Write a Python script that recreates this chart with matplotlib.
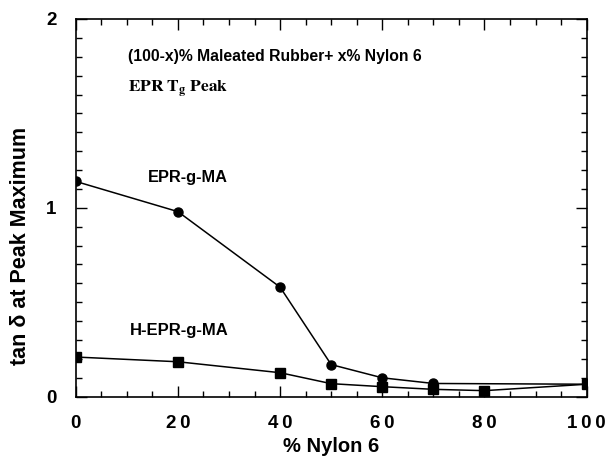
import numpy as np
import matplotlib.pyplot as plt
from matplotlib.ticker import MultipleLocator, FixedLocator

plt.rcParams['font.family'] = ['Liberation Sans', 'DejaVu Sans']
plt.rcParams['mathtext.fontset'] = 'stix'

# tan delta at the EPR Tg peak vs nylon 6 content
nylon_epr = [0, 20, 40, 50, 60, 70, 100]
tan_epr = [1.14, 0.98, 0.58, 0.17, 0.10, 0.07, 0.066]

nylon_hepr = [0, 20, 40, 50, 60, 70, 80, 100]
tan_hepr = [0.21, 0.185, 0.127, 0.069, 0.053, 0.039, 0.032, 0.066]

x_ticks = [0, 20, 40, 60, 80, 100]
x_ticklabels = ['0', '2\u20090', '4\u20090', '6\u20090', '8\u20090', '1\u20090\u20090']
y_ticks = [0, 1, 2]

fig = plt.figure(figsize=(6.06, 4.61), dpi=100)
ax = fig.add_axes([0.125, 0.1395, 0.843, 0.8193])

ax.plot(nylon_epr, tan_epr, color='black', lw=1.1, marker='o', ms=6.5)
ax.plot(nylon_hepr, tan_hepr, color='black', lw=1.1, marker='s', ms=6.8)

ax.set_xlim(0, 100)
ax.set_ylim(0, 2)

ax.xaxis.set_major_locator(FixedLocator(x_ticks))
ax.set_xticklabels(x_ticklabels)
ax.xaxis.set_minor_locator(MultipleLocator(5))
ax.yaxis.set_major_locator(FixedLocator(y_ticks))
ax.yaxis.set_minor_locator(MultipleLocator(0.1))

ax.tick_params(which='both', direction='in', top=True, right=True, width=1)
ax.tick_params(which='major', length=8, labelsize=13.5)
ax.tick_params(axis='x', which='major', pad=13)
ax.tick_params(axis='y', which='major', pad=14)
ax.tick_params(which='minor', length=4.5)
for lab in ax.get_xticklabels() + ax.get_yticklabels():
    lab.set_fontweight('bold')

for s in ax.spines.values():
    s.set_linewidth(1.2)

ax.set_xlabel('% Nylon 6', fontsize=14.5, fontweight='bold')
ax.xaxis.set_label_coords(0.5, -0.108)
ax.set_ylabel('tan δ at Peak Maximum', fontsize=15.5, fontweight='bold')
ax.yaxis.set_label_coords(-0.088, 0.40)

ax.text(10.3, 1.80, '(100-x)% Maleated Rubber+ x% Nylon 6', fontsize=11.3,
        fontweight='bold', va='center')
ax.text(10.3, 1.63, r'$\mathbf{EPR\ T_{g}\ Peak}$', fontsize=12.5, va='center')
ax.text(14.2, 1.16, 'EPR-g-MA', fontsize=11.8, fontweight='bold', va='center')
ax.text(10.6, 0.35, 'H-EPR-g-MA', fontsize=12, fontweight='bold', va='center')

fig.savefig('out.png', dpi=100)
